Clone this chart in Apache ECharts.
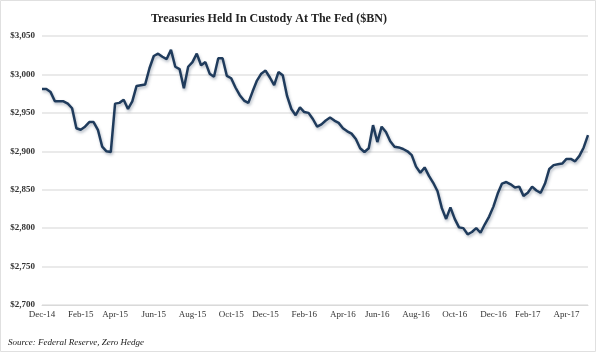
<!DOCTYPE html>
<html>
<head>
<meta charset="utf-8">
<script src="https://cdn.jsdelivr.net/npm/echarts@6/dist/echarts.min.js"></script>
<style>
  html, body { margin: 0; padding: 0; background: #fff; }
  #chart { width: 600px; height: 354px; }
</style>
</head>
<body>
<div id="chart"></div>
<script>
// weekly custody holdings, $BN
var custody = [
  2981, 2981, 2977, 2965, 2965, 2965, 2962, 2956, 2930, 2928,
  2932, 2938, 2938, 2928, 2906, 2900, 2899, 2962, 2963, 2967,
  2955, 2965, 2985, 2986, 2987, 3008, 3024, 3027, 3023, 3020,
  3032, 3010, 3007, 2982, 3010, 3016, 3027, 3012, 3016, 3001,
  2997, 3021, 3021, 2998, 2995, 2983, 2973, 2966, 2963, 2978,
  2992, 3001, 3005, 2996, 2986, 3003, 2999, 2972, 2955, 2947,
  2957, 2951, 2950, 2942, 2932, 2935, 2940, 2944, 2940, 2937,
  2930, 2926, 2923, 2916, 2904, 2899, 2904, 2934, 2912, 2932,
  2925, 2913, 2906, 2905, 2903, 2900, 2895, 2880, 2872, 2879,
  2868, 2859, 2848, 2826, 2812, 2827, 2812, 2801, 2800, 2792,
  2795, 2800, 2794, 2805, 2815, 2828, 2845, 2858, 2860, 2857,
  2853, 2854, 2842, 2846, 2854, 2849, 2846, 2858, 2877, 2882,
  2883, 2884, 2890, 2890, 2887, 2894, 2905, 2921
];

// one category per week, starting first week of Dec 2014
var startWeek = Date.UTC(2014, 11, 3);
var weeks = [];
for (var i = 0; i < custody.length; i++) {
  weeks.push(new Date(startWeek + i * 7 * 86400000).toISOString().slice(0, 10));
}

var monthNames = ['Jan','Feb','Mar','Apr','May','Jun','Jul','Aug','Sep','Oct','Nov','Dec'];

// label the first week of every other month (Dec, Feb, Apr ...)
function isLabelWeek(d) {
  var m = +d.slice(5, 7) - 1;
  var day = +d.slice(8, 10);
  return m % 2 === 1 && day <= 7;
}

var serif = '"Liberation Serif", "DejaVu Serif", serif';

var chart = echarts.init(document.getElementById('chart'));
chart.setOption({
  backgroundColor: '#fff',
  animation: false,
  title: {
    text: 'Treasuries Held In Custody At The Fed ($BN)',
    left: 146,
    top: 8,
    textStyle: { fontFamily: serif, fontSize: 12, fontWeight: 'bold', color: '#222' }
  },
  grid: { left: 42, right: 12, top: 36, bottom: 49 },
  xAxis: {
    type: 'category',
    boundaryGap: false,
    data: weeks,
    axisLine: { lineStyle: { color: '#d9d9d9', width: 1 } },
    axisTick: { show: false },
    splitLine: { show: false },
    axisLabel: {
      interval: function (idx, val) { return isLabelWeek(val); },
      formatter: function (val) {
        return monthNames[+val.slice(5, 7) - 1] + '-' + val.slice(2, 4);
      },
      fontFamily: serif,
      fontSize: 9,
      color: '#333',
      margin: 5
    }
  },
  yAxis: {
    type: 'value',
    min: 2700,
    max: 3050,
    interval: 50,
    axisLine: { show: false },
    axisTick: { show: false },
    splitLine: { lineStyle: { color: '#e3e3e3', width: 1.5 } },
    axisLabel: {
      formatter: function (v) { return '$' + v.toLocaleString('en-US'); },
      fontFamily: serif,
      fontSize: 9,
      fontWeight: 'bold',
      color: '#333',
      margin: 7
    }
  },
  series: [{
    name: 'Custody',
    type: 'line',
    data: custody,
    symbol: 'none',
    lineStyle: {
      color: '#1f3b5c',
      width: 2.5,
      shadowColor: 'rgba(40,60,90,0.35)',
      shadowBlur: 3,
      shadowOffsetX: 1,
      shadowOffsetY: 2
    }
  }],
  graphic: [{
    type: 'text',
    left: 8,
    top: 338,
    style: {
      text: 'Source: Federal Reserve, Zero Hedge',
      font: 'italic 9px ' + serif,
      fill: '#222'
    }
  }, {
    type: 'rect',
    shape: { x: 0.5, y: 0.5, width: 595, height: 351 },
    style: { fill: 'none', stroke: '#e0e0e0', lineWidth: 1 },
    silent: true
  }]
});
</script>
</body>
</html>
